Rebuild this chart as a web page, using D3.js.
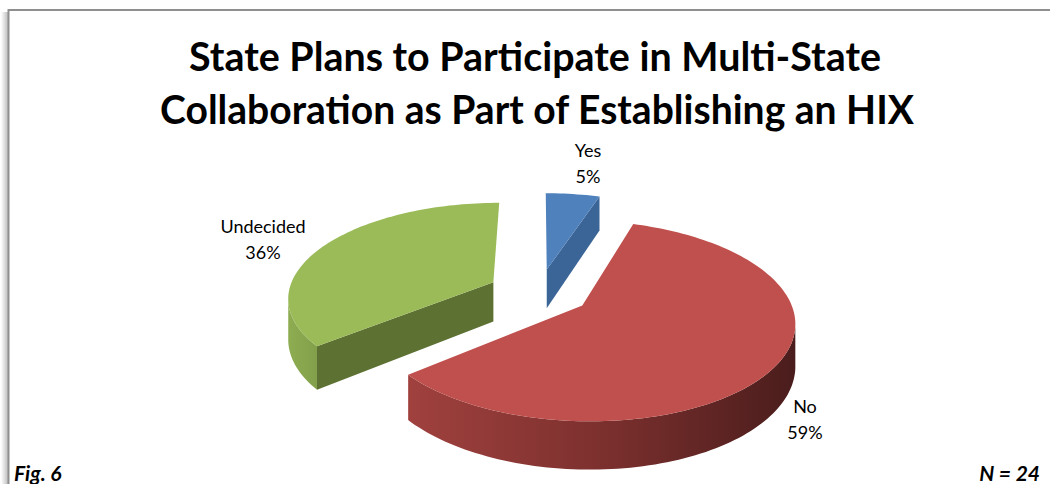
<!DOCTYPE html>
<html>
<head>
<meta charset="utf-8">
<script src="https://cdn.jsdelivr.net/npm/d3@7"></script>
<style>
  html, body { margin: 0; padding: 0; background: #ffffff; }
  svg { display: block; }
</style>
</head>
<body>
<svg id="chart" width="1050" height="484"></svg>
<script>
// Survey answers (share of responding states)
const categories = ["Yes", "No", "Undecided"];
const values = [5, 59, 36];
const percentLabels = ["5%", "59%", "36%"];
const topColors = ["#4F81BD", "#C0504D", "#9BBB59"];
const faceColors = ["#3B6597", "#8E3836", "#5C7132"];
const wallStops = [
  ["#3D679A", "#335887"],
  ["#A0413E", "#7C302E", "#4A1D1C"],
  ["#8EAD51", "#82A04A"]
];
const titleLines = [
  "State Plans to Participate in Multi-State",
  "Collaboration as Part of Establishing an HIX"
];
const footLeft = "Fig. 6";
const footRight = "N = 24";

const svg = d3.select("#chart");

// ---- frame with soft shadow on the left edge ----
const defs = svg.append("defs");
const sh = defs.append("linearGradient").attr("id", "frameShadow")
  .attr("x1", 0).attr("x2", 1).attr("y1", 0).attr("y2", 0);
sh.append("stop").attr("offset", 0).attr("stop-color", "#ffffff");
sh.append("stop").attr("offset", 1).attr("stop-color", "#bdbdbd");
svg.append("rect").attr("x", 1).attr("y", 12).attr("width", 7).attr("height", 480)
  .attr("fill", "url(#frameShadow)");
svg.append("path")
  .attr("d", "M8.5,490 L8.5,10 L1052,10")
  .attr("fill", "none").attr("stroke", "#8f8f8f").attr("stroke-width", 2);

// ---- title ----
const title = svg.append("g")
  .attr("font-family", "Lato, 'Open Sans', sans-serif")
  .attr("font-weight", "bold").attr("font-size", 40).attr("fill", "#000");
title.append("text").attr("x", 535).attr("y", 71).attr("text-anchor", "middle")
  .attr("textLength", 692).attr("lengthAdjust", "spacingAndGlyphs").text(titleLines[0]);
title.append("text").attr("x", 537).attr("y", 124).attr("text-anchor", "middle")
  .attr("textLength", 754).attr("lengthAdjust", "spacingAndGlyphs").text(titleLines[1]);

// ---- 3D exploded pie ----
const view = { persp: 0.15, depth: 40, explode: 0.25 };
// ground-plane coordinates (unit radius) to screen
const xScale = d3.scaleLinear().domain([-1, 1]).range([334, 744]);
const zScale = d3.scaleLinear().domain([-1, 1]).range([386, 198]);
function project(X, Z, lower) {
  const s = 1 / (1 + view.persp * Z);
  return [xScale(X * s), zScale(Z * s) + (lower ? view.depth * s : 0)];
}
const camZ = -1 / view.persp;

const pie = d3.pie().sort(null).value(d => d);
const arcs = pie(values).map((d, i) => {
  const mid = (d.startAngle + d.endAngle) / 2;
  return Object.assign(d, {
    i,
    ox: view.explode * Math.sin(mid),
    oz: view.explode * Math.cos(mid)
  });
});

const poly = d3.line();
const STEPS = 240;

function rimPoint(d, t, lower) {
  return project(d.ox + Math.sin(t), d.oz + Math.cos(t), lower);
}
function wallFacing(d, t) {
  return -d.ox * Math.sin(t) - d.oz * Math.cos(t) - 1 - Math.cos(t) / view.persp > 0;
}

// paint back slices first
const order = arcs.slice().sort((a, b) => b.oz - a.oz);
const pieG = svg.append("g");

order.forEach(d => {
  const g = pieG.append("g").attr("class", "slice-" + categories[d.i]);
  const n = Math.max(8, Math.ceil(STEPS * (d.endAngle - d.startAngle) / (2 * Math.PI)));
  const thetas = d3.range(n + 1).map(k => d.startAngle + (d.endAngle - d.startAngle) * k / n);

  // flat radial faces
  const apexTop = project(d.ox, d.oz, false);
  const apexBot = project(d.ox, d.oz, true);
  const toCam = [-d.ox, camZ - d.oz];
  const edges = [
    { t: d.startAngle, nrm: [-Math.cos(d.startAngle), Math.sin(d.startAngle)] },
    { t: d.endAngle, nrm: [Math.cos(d.endAngle), -Math.sin(d.endAngle)] }
  ];
  edges.forEach(e => {
    const dot = e.nrm[0] * toCam[0] + e.nrm[1] * toCam[1];
    if (dot > 0.5) {
      g.append("path")
        .attr("d", poly([apexTop, rimPoint(d, e.t, false), rimPoint(d, e.t, true), apexBot]) + "Z")
        .attr("fill", faceColors[d.i]);
    }
  });

  // curved outer wall, front-facing runs only
  const runs = [];
  let cur = null;
  thetas.forEach(t => {
    if (wallFacing(d, t)) { if (!cur) { cur = []; runs.push(cur); } cur.push(t); }
    else cur = null;
  });
  runs.forEach((run, r) => {
    if (run.length < 2) return;
    const top = run.map(t => rimPoint(d, t, false));
    const bot = run.map(t => rimPoint(d, t, true)).reverse();
    const pts = top.concat(bot);
    const xs = pts.map(p => p[0]);
    const gid = "wall-" + d.i + "-" + r;
    const grad = defs.append("linearGradient").attr("id", gid)
      .attr("gradientUnits", "userSpaceOnUse")
      .attr("x1", d3.min(xs)).attr("x2", d3.max(xs)).attr("y1", 0).attr("y2", 0);
    const stops = wallStops[d.i];
    stops.forEach((c, k) => grad.append("stop")
      .attr("offset", k / (stops.length - 1)).attr("stop-color", c));
    g.append("path").attr("d", poly(pts) + "Z").attr("fill", "url(#" + gid + ")");
  });

  // top surface
  const topPts = [apexTop].concat(thetas.map(t => rimPoint(d, t, false)));
  g.append("path").attr("d", poly(topPts) + "Z").attr("fill", topColors[d.i]);
});

// ---- data labels ----
const labelAnchor = { Yes: [588, 157], No: [805, 413], Undecided: [263, 233] };
const labels = svg.append("g")
  .attr("font-family", "Lato, 'Open Sans', sans-serif")
  .attr("font-size", 18).attr("fill", "#000").attr("text-anchor", "middle");
categories.forEach((c, i) => {
  const [x, y] = labelAnchor[c];
  labels.append("text").attr("x", x).attr("y", y).text(c);
  labels.append("text").attr("x", x).attr("y", y + 26).text(percentLabels[i]);
});

// ---- footer notes ----
const foot = svg.append("g")
  .attr("font-family", "Lato, 'Open Sans', sans-serif")
  .attr("font-size", 21).attr("font-weight", "bold").attr("font-style", "italic").attr("fill", "#000");
foot.append("text").attr("x", 14).attr("y", 481).text(footLeft);
foot.append("text").attr("x", 1040).attr("y", 481).attr("text-anchor", "end").text(footRight);
</script>
</body>
</html>
